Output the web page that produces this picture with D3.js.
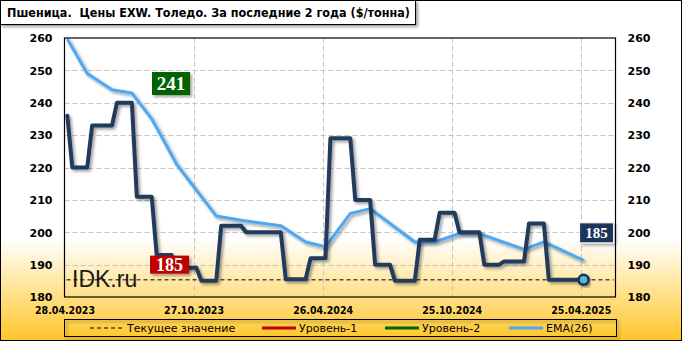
<!DOCTYPE html>
<html>
<head>
<meta charset="utf-8">
<script src="https://cdn.jsdelivr.net/npm/d3@7"></script>
<style>
  html, body { margin: 0; padding: 0; background: #fff; }
  svg { display: block; }
</style>
</head>
<body>
<svg class="chart"></svg>
<script>
// weekly prices, $/t
const priceStart = new Date(2023, 4, 2);
const prices = [
  236,
  220, 220, 220, 220,
  233, 233, 233, 233, 233,
  240, 240, 240, 240,
  211, 211, 211, 211,
  193, 193, 193, 193,
  189, 189, 189, 189, 189,
  185, 185, 185, 185,
  202, 202, 202, 202, 202,
  200, 200, 200, 200, 200, 200, 200, 200,
  185.5, 185.5, 185.5, 185.5, 185.5,
  192, 192, 192, 192,
  229, 229, 229, 229, 229,
  210, 210, 210, 210,
  190, 190, 190, 190,
  185, 185, 185, 185, 185,
  197.7, 197.7, 197.7, 197.7,
  206, 206, 206, 206,
  200, 200, 200, 200, 200,
  190, 190, 190, 190,
  191, 191, 191, 191, 191,
  202.7, 202.7, 202.7, 202.7,
  185.3, 185.3, 185.3, 185.3, 185.3, 185.3, 185.3, 185.3,
];

// EMA(26) vertices: week number and value
const emaWeeks = [0, 4, 9, 13, 17, 19, 22, 27, 30, 35, 43, 48, 52, 57, 61, 65, 70, 74, 79, 83, 92, 96, 104];
const emaValues = [259.7, 249, 244, 243, 235, 229.5, 221, 211, 205, 203.7, 202, 197, 195.5, 205.8, 207.3, 202.7, 197, 197, 199.6, 199.6, 194.7, 197, 191.3];

const level1 = 184.6;
const level2 = 241;

const yTicks = [180, 190, 200, 210, 220, 230, 240, 250, 260];
const xTicks = [new Date(2023, 3, 28), new Date(2023, 9, 27), new Date(2024, 3, 26), new Date(2024, 9, 25), new Date(2025, 3, 25)];

const titleText = "Пшеница.  Цены EXW. Толедо. За последние 2 года ($/тонна)";
const legendItems = ["Текущее значение", "Уровень-1", "Уровень-2", "EMA(26)"];

window.onload = function () {
  const W = 682, H = 341;
  const svg = d3.select(".chart").attr("width", W).attr("height", H);
  const defs = svg.append("defs");

  const grad = defs.append("linearGradient").attr("id", "bg")
    .attr("x1", 0).attr("y1", 0).attr("x2", 0).attr("y2", 1);
  grad.append("stop").attr("offset", "0").attr("stop-color", "#ffffff");
  grad.append("stop").attr("offset", "0.70").attr("stop-color", "#ffffff");
  grad.append("stop").attr("offset", "1").attr("stop-color", "#ffc628");

  const shadow = defs.append("filter").attr("id", "shadow")
    .attr("x", "-10%").attr("y", "-10%").attr("width", "130%").attr("height", "140%");
  shadow.append("feDropShadow").attr("dx", 2).attr("dy", 2)
    .attr("stdDeviation", 1.4).attr("flood-color", "#000").attr("flood-opacity", 0.38);

  svg.append("rect").attr("width", W).attr("height", H).attr("fill", "url(#bg)");

  const x = d3.scaleTime()
    .domain([new Date(2023, 3, 28), new Date(2025, 5, 13)])
    .range([64.5, 615.5]);
  const y = d3.scaleLinear().domain([180, 260]).range([297, 38]);
  const [x0, x1] = x.range();

  // grid
  const grid = svg.append("g").attr("stroke", "#c4c4c4").attr("stroke-dasharray", "5,3");
  grid.selectAll(".h").data(yTicks.slice(1, -1)).enter().append("line")
    .attr("x1", x0).attr("x2", x1)
    .attr("y1", (d) => Math.round(y(d)) + 0.5).attr("y2", (d) => Math.round(y(d)) + 0.5);
  grid.selectAll(".v").data(xTicks.slice(1)).enter().append("line")
    .attr("y1", y(260)).attr("y2", y(180))
    .attr("x1", (d) => Math.round(x(d)) + 0.5).attr("x2", (d) => Math.round(x(d)) + 0.5);

  // watermark
  svg.append("text").attr("x", 72).attr("y", 287)
    .attr("font-family", "Liberation Sans, Arial, sans-serif").attr("font-size", 23)
    .attr("fill", "#1a1a1a").text("IDK.ru");

  // levels
  const lvl = (v, color, width, dash) =>
    svg.append("line").attr("x1", x0 + 2).attr("x2", x1 - 2)
      .attr("y1", y(v)).attr("y2", y(v))
      .attr("stroke", color).attr("stroke-width", width)
      .attr("stroke-dasharray", dash).attr("filter", dash ? null : "url(#shadow)");
  lvl(level2, "#006400", 3, null);
  lvl(level1, "#c00000", 3, null);
  const last = prices[prices.length - 1];
  lvl(last, "#000", 1, "4,3");

  // EMA
  const emaLine = d3.line()
    .x((d) => x(d3.timeDay.offset(priceStart, 7 * d[0])))
    .y((d) => y(d[1]));
  svg.append("path")
    .attr("d", emaLine(emaWeeks.map((w, i) => [w, emaValues[i]])))
    .attr("fill", "none").attr("stroke", "#4ea8f4").attr("stroke-width", 3)
    .attr("stroke-linejoin", "round").attr("filter", "url(#shadow)");

  // price
  const priceLine = d3.line()
    .x((d, i) => x(d3.timeDay.offset(priceStart, 7 * i)))
    .y((d) => y(d));
  svg.append("path").attr("d", priceLine(prices))
    .attr("fill", "none").attr("stroke", "#223b5c").attr("stroke-width", 4)
    .attr("stroke-linejoin", "round").attr("stroke-linecap", "round")
    .attr("filter", "url(#shadow)");

  const lastX = x(d3.timeDay.offset(priceStart, 7 * (prices.length - 1)));
  svg.append("circle").attr("cx", lastX).attr("cy", y(last)).attr("r", 5)
    .attr("fill", "#5ab4dc").attr("stroke", "#13305a").attr("stroke-width", 2.5)
    .attr("filter", "url(#shadow)");

  // plot frame
  svg.append("rect").attr("x", x0).attr("y", y(260)).attr("width", x1 - x0).attr("height", y(180) - y(260))
    .attr("fill", "none").attr("stroke", "#000").attr("stroke-width", 1.2);

  // value labels
  const tag = (cx, cy, w, h, fill, txt, fs, outline) => {
    const g = svg.append("g");
    g.append("rect").attr("x", cx - w / 2).attr("y", cy - h / 2).attr("width", w).attr("height", h)
      .attr("fill", fill).attr("stroke", outline || "none").attr("filter", "url(#shadow)");
    g.append("text").attr("x", cx).attr("y", cy).attr("dy", "0.35em")
      .attr("text-anchor", "middle").attr("fill", "#fff")
      .attr("font-family", "Liberation Serif, Times New Roman, serif").attr("font-weight", "bold")
      .attr("font-size", fs).text(txt);
  };
  tag(171, y(level2) - 16, 38, 23, "#006400", d3.format(".0f")(level2), 19);
  tag(169.5, y(level1) - 17.5, 39, 18, "#c00000", d3.format(".0f")(level1), 18);
  tag(lastX + 13, y(last) - 47, 34, 20, "#1b365d", d3.format(".0f")(last), 15, "#ffffff");

  // axes
  const axisFont = (g) => g.selectAll("text")
    .attr("font-family", "DejaVu Sans, Verdana, sans-serif").attr("font-weight", "bold")
    .attr("font-size", 11).attr("fill", "#000");
  svg.append("g").attr("transform", `translate(${x0},0)`)
    .call(d3.axisLeft(y).tickValues(yTicks).tickSize(0).tickPadding(12))
    .call((g) => g.select(".domain").remove())
    .call(axisFont)
    .call((g) => g.selectAll("text").attr("dy", "0.34em"));
  svg.append("g").attr("transform", `translate(${x1},0)`)
    .call(d3.axisRight(y).tickValues(yTicks).tickSize(0).tickPadding(12))
    .call((g) => g.select(".domain").remove())
    .call(axisFont)
    .call((g) => g.selectAll("text").attr("dy", "0.34em"));
  svg.append("g").attr("transform", `translate(0,${y(180)})`)
    .call(d3.axisBottom(x).tickValues(xTicks).tickFormat(d3.timeFormat("%d.%m.%Y")).tickSize(0).tickPadding(10))
    .call((g) => g.select(".domain").remove())
    .call(axisFont)
    .call((g) => g.selectAll("text").attr("font-size", 10.5)
      .attr("textLength", 60).attr("lengthAdjust", "spacingAndGlyphs"));

  // legend
  const leg = svg.append("g");
  leg.append("rect").attr("x", 64.5).attr("y", 319.5).attr("width", 552).attr("height", 17)
    .attr("fill", "none").attr("stroke", "#000").attr("filter", "url(#shadow)");
  const legX = [90, 262, 385, 509];
  const legStyle = [["#000", 1, "4,3"], ["#c00000", 3, null], ["#006400", 3, null], ["#4ea8f4", 3, null]];
  legendItems.forEach((t, i) => {
    leg.append("line").attr("x1", legX[i]).attr("x2", legX[i] + 34).attr("y1", 328).attr("y2", 328)
      .attr("stroke", legStyle[i][0]).attr("stroke-width", legStyle[i][1])
      .attr("stroke-dasharray", legStyle[i][2]);
    leg.append("text").attr("x", legX[i] + 37).attr("y", 332)
      .attr("font-family", "DejaVu Sans, Verdana, sans-serif").attr("font-size", 11)
      .attr("fill", "#000").text(t);
  });

  // title
  svg.append("rect").attr("x", 0.5).attr("y", 0.5).attr("width", 415).attr("height", 24)
    .attr("fill", "#fff").attr("stroke", "#000").attr("filter", "url(#shadow)");
  svg.append("text").attr("x", 7).attr("y", 17)
    .attr("xml:space", "preserve").style("white-space", "pre")
    .attr("font-family", "DejaVu Sans, Verdana, sans-serif").attr("font-weight", "bold")
    .attr("font-size", 13).attr("textLength", 403).attr("lengthAdjust", "spacingAndGlyphs")
    .text(titleText);

  // outer frame
  svg.append("rect").attr("x", 0.5).attr("y", 0.5).attr("width", W - 1).attr("height", H - 1)
    .attr("fill", "none").attr("stroke", "#000");
};
</script>
</body>
</html>
